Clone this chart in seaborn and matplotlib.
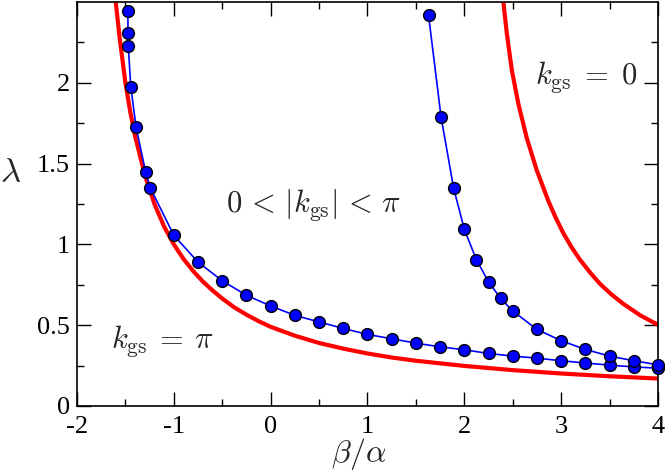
import numpy as np
import pandas as pd
import matplotlib
matplotlib.use("Agg")
import matplotlib.pyplot as plt
import seaborn as sns

# lower branch (blue dots)
beta_low = [-1.475, -1.473, -1.47, -1.445, -1.39, -1.29, -1.245, -1.0, -0.75, -0.5,
            -0.25, 0.0, 0.25, 0.5, 0.75, 1.0, 1.25, 1.5, 1.75, 2.0,
            2.25, 2.5, 2.75, 3.0, 3.25, 3.5, 3.75, 4.0]
lam_low = [2.443, 2.309, 2.226, 1.977, 1.725, 1.445, 1.352, 1.056, 0.890, 0.775,
           0.685, 0.619, 0.561, 0.520, 0.480, 0.443, 0.416, 0.389, 0.366, 0.348,
           0.325, 0.309, 0.296, 0.280, 0.266, 0.253, 0.242, 0.234]

# upper branch (blue dots)
beta_up = [1.63, 1.76, 1.89, 2.0, 2.125, 2.25, 2.375, 2.5, 2.75, 3.0, 3.25, 3.5, 3.75, 4.0]
lam_up = [2.42, 1.787, 1.346, 1.093, 0.905, 0.768, 0.666, 0.588, 0.474, 0.404,
          0.350, 0.309, 0.280, 0.255]

# red boundary curves
beta_red_left = [-1.60, -1.56, -1.50, -1.45, -1.40, -1.30, -1.20, -1.10, -1.00, -0.90, -0.80,
                 -0.70, -0.60, -0.50, -0.375, -0.25, -0.125, 0.0, 0.25, 0.5, 0.75, 1.0,
                 1.25, 1.5, 2.0, 2.5, 3.0, 3.5, 4.0]
lam_red_left = [2.50, 2.28, 2.00, 1.82, 1.67, 1.43, 1.25, 1.11, 1.00, 0.91, 0.835,
                0.77, 0.715, 0.665, 0.61, 0.565, 0.525, 0.49, 0.435, 0.39, 0.355, 0.325,
                0.30, 0.28, 0.248, 0.222, 0.201, 0.184, 0.170]

beta_red_right = [2.403, 2.438, 2.49, 2.558, 2.644, 2.747, 2.867, 2.94, 3.022, 3.11, 3.195,
                  3.30, 3.401, 3.52, 3.642, 3.814, 4.0]
lam_red_right = [2.50, 2.309, 2.08, 1.87, 1.66, 1.46, 1.27, 1.17, 1.07, 0.98, 0.905,
                 0.825, 0.756, 0.69, 0.632, 0.562, 0.502]

x_ticks = [-2, -1, 0, 1, 2, 3, 4]
y_ticks = [0, 0.5, 1, 1.5, 2]
y_ticklabels = ["0", "0.5", "1", "1.5", "2"]

sns.set_style("ticks")
plt.rcParams["font.family"] = "serif"
plt.rcParams["font.serif"] = ["Liberation Serif", "DejaVu Serif"]
plt.rcParams["mathtext.fontset"] = "cm"
plt.rcParams["axes.unicode_minus"] = False

fig = plt.figure(figsize=(6.65, 4.73), dpi=100)
ax = fig.add_axes([77 / 665, 1 - 406 / 473, 581 / 665, 404 / 473])

red_l = pd.DataFrame({"b": beta_red_left, "l": lam_red_left})
red_r = pd.DataFrame({"b": beta_red_right, "l": lam_red_right})
sns.lineplot(data=red_l, x="b", y="l", ax=ax, color="#ff0000", lw=3.0, sort=False, zorder=2)
sns.lineplot(data=red_r, x="b", y="l", ax=ax, color="#ff0000", lw=3.0, sort=False, zorder=2)

for bx, ly in [(beta_low, lam_low), (beta_up, lam_up)]:
    df = pd.DataFrame({"b": bx, "l": ly})
    sns.lineplot(data=df, x="b", y="l", ax=ax, color="#0000ff", lw=1.2, sort=False,
                 marker="o", markersize=8.5, markerfacecolor="#0000ff",
                 markeredgecolor="black", markeredgewidth=1.0, zorder=3, clip_on=False)

ax.set_xlim(-2, 4)
ax.set_ylim(0, 2.5)
ax.set_xticks(x_ticks)
ax.set_xticklabels([str(t) for t in x_ticks], fontfamily="Liberation Serif")
ax.set_yticks(y_ticks)
ax.set_yticklabels(y_ticklabels, fontfamily="Liberation Serif")
ax.set_xticks(np.arange(-1.5, 4, 1.0), minor=True)
ax.set_yticks(np.arange(0.25, 2.5, 0.5), minor=True)
ax.tick_params(which="both", direction="in", top=True, right=True, width=1.0,
               labelsize=19, colors="black")
ax.tick_params(which="major", length=10)
ax.tick_params(which="minor", length=5)
ax.tick_params(axis="x", pad=7)
ax.tick_params(axis="y", pad=5)
for s in ax.spines.values():
    s.set_visible(True)
    s.set_linewidth(1.2)
    s.set_color("black")

ax.set_xlabel(r"$\beta/\alpha$", fontsize=23, labelpad=0)
ax.set_ylabel(r"$\lambda$", fontsize=25, rotation=0)
ax.yaxis.set_label_coords(-0.115, 0.535)
ax.xaxis.set_label_coords(0.485, -0.075)
ax.xaxis.label.set_va("top")

ax.text(3.26, 2.034, r"$k_{\rm gs}\;=\;0$", fontsize=22, ha="center", va="center")
ax.text(0.44, 1.242, r"$0\,<\,|k_{\rm gs}|\,<\,\pi$", fontsize=22, ha="center", va="center")
ax.text(-1.12, 0.40, r"$k_{\rm gs}\:=\:\pi$", fontsize=22, ha="center", va="center")

fig.savefig("out.png", dpi=100)
